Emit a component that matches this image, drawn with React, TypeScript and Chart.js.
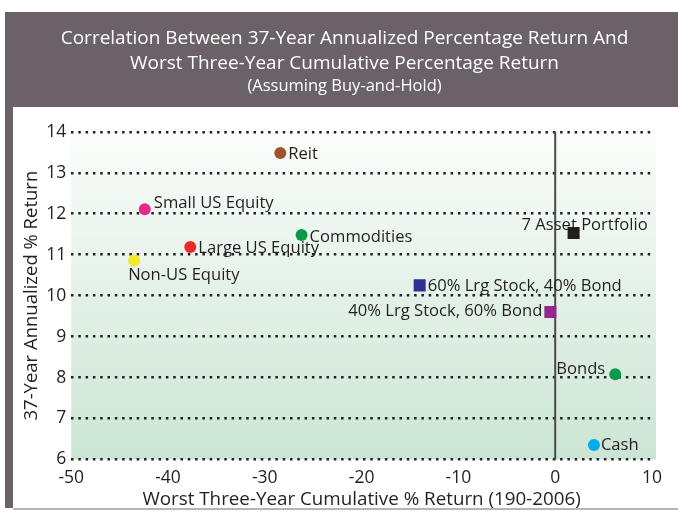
import React, { useEffect, useRef } from "react";
import { Chart, registerables } from "chart.js";

Chart.register(...registerables);

const names = [
  "Reit",
  "Small US Equity",
  "Commodities",
  "Large US Equity",
  "Non-US Equity",
  "7 Asset Portfolio",
  "60% Lrg Stock, 40% Bond",
  "40% Lrg Stock, 60% Bond",
  "Bonds",
  "Cash",
];
const worstReturn = [-28.4, -42.4, -26.2, -37.7, -43.5, 1.9, -14.0, -0.5, 6.2, 4.0];
const annualReturn = [13.48, 12.11, 11.48, 11.19, 10.86, 11.53, 10.25, 9.6, 8.08, 6.35];
const colors = [
  "#9c5429",
  "#e6298c",
  "#0c9a4a",
  "#ea2a2d",
  "#f7e82c",
  "#231f20",
  "#2e3192",
  "#93278f",
  "#0c9a4a",
  "#00aeef",
];
const shapes = ["circle", "circle", "circle", "circle", "circle", "rect", "rect", "rect", "circle", "circle"];
// label placement: [dx, dy, textAlign]
const labelPlacement: [number, number, CanvasTextAlign][] = [
  [8, 1, "left"],
  [9, -6, "left"],
  [8, 2, "left"],
  [8, 1, "left"],
  [-6, 15, "left"],
  [11, -8, "center"],
  [8, 1, "left"],
  [-8, -1, "right"],
  [-10, -5, "right"],
  [7, 0, "left"],
];

const titleLines = [
  "Correlation Between 37-Year Annualized Percentage Return And",
  "Worst Three-Year Cumulative Percentage Return",
];
const subtitleText = "(Assuming Buy-and-Hold)";
const xTitle = "Worst Three-Year Cumulative % Return (190-2006)";
const yTitle = "37-Year Annualized % Return";
const FONT = "'Open Sans', 'Noto Sans', sans-serif";
const TEXT = "#231f20";

const framePlugin = {
  id: "frame",
  beforeDraw(chart: any) {
    const { ctx, chartArea, width } = chart;
    ctx.save();
    ctx.fillStyle = "#ffffff";
    ctx.fillRect(0, 0, chart.width, chart.height);
    ctx.fillStyle = "#6b6168";
    ctx.fillRect(5, 12, width - 5, 95);
    ctx.fillRect(5, 12, 8, 496);
    ctx.fillStyle = "#b5b5b5";
    ctx.fillRect(13, 508, width - 13, 2);
    const g = ctx.createLinearGradient(0, chartArea.top, 0, chartArea.bottom);
    g.addColorStop(0, "#fbfdfb");
    g.addColorStop(1, "#cbe5d4");
    ctx.fillStyle = g;
    ctx.fillRect(chartArea.left, chartArea.top + 1, chartArea.right - chartArea.left + 4, chartArea.bottom - chartArea.top - 1);
    ctx.restore();
  },
  beforeDatasetsDraw(chart: any) {
    const { ctx, chartArea } = chart;
    const x0 = chart.scales.x.getPixelForValue(0);
    ctx.save();
    ctx.strokeStyle = "#4a4a4a";
    ctx.lineWidth = 2;
    ctx.beginPath();
    ctx.moveTo(x0, chartArea.top);
    ctx.lineTo(x0, chartArea.bottom);
    ctx.stroke();
    ctx.restore();
  },
  afterDatasetsDraw(chart: any) {
    const { ctx } = chart;
    const meta = chart.getDatasetMeta(0);
    ctx.save();
    ctx.font = `16.6px ${FONT}`;
    ctx.fillStyle = TEXT;
    ctx.textBaseline = "middle";
    meta.data.forEach((pt: any, i: number) => {
      const [dx, dy, align] = labelPlacement[i];
      ctx.textAlign = align;
      ctx.fillText(names[i], pt.x + dx, pt.y + dy);
    });
    ctx.restore();
  },
};

export default function App() {
  const ref = useRef<HTMLCanvasElement>(null);
  useEffect(() => {
    document.body.style.margin = "0";
    const chart = new Chart(ref.current!, {
      type: "scatter",
      data: {
        datasets: [
          {
            data: worstReturn.map((x, i) => ({ x, y: annualReturn[i] })),
            backgroundColor: colors,
            borderColor: colors,
            pointStyle: shapes as any,
            pointRadius: shapes.map((s) => (s === "rect" ? 8.5 : 6)),
            borderWidth: 0,
          },
        ],
      },
      options: {
        responsive: false,
        animation: false,
        layout: { padding: { left: 37, right: 26, bottom: 0, top: 0 } },
        plugins: {
          legend: { display: false },
          tooltip: { enabled: false },
          title: {
            display: true,
            text: titleLines,
            color: "#ffffff",
            font: { family: FONT, size: 19, weight: "normal", lineHeight: 25 / 19 },
            padding: { top: 26, bottom: 0 },
          },
          subtitle: {
            display: true,
            text: subtitleText,
            color: "#ffffff",
            font: { family: FONT, size: 16.5, weight: "normal", lineHeight: 1.2 },
            padding: { top: 0, bottom: 36 },
          },
        },
        scales: {
          x: {
            type: "linear",
            min: -50,
            max: 10,
            ticks: { stepSize: 10, color: TEXT, font: { family: FONT, size: 17.5 }, padding: 8 },
            grid: { display: false, drawTicks: false },
            border: { display: false },
            title: {
              display: true,
              text: xTitle,
              color: TEXT,
              font: { family: FONT, size: 18.8 },
              padding: { top: -8, bottom: 0 },
            },
          },
          y: {
            type: "linear",
            min: 6,
            max: 14,
            ticks: { stepSize: 1, color: TEXT, font: { family: FONT, size: 17.5 }, padding: 5 },
            grid: { color: TEXT, lineWidth: 2.5, drawTicks: false },
            border: { display: false, dash: [2.5, 4.8] },
            title: {
              display: true,
              text: yTitle,
              color: TEXT,
              font: { family: FONT, size: 18.5 },
              padding: { top: -16, bottom: -2 },
            },
          },
        },
      },
      plugins: [framePlugin],
    });
    return () => chart.destroy();
  }, []);
  return <canvas ref={ref} width={678} height={511} />;
}
